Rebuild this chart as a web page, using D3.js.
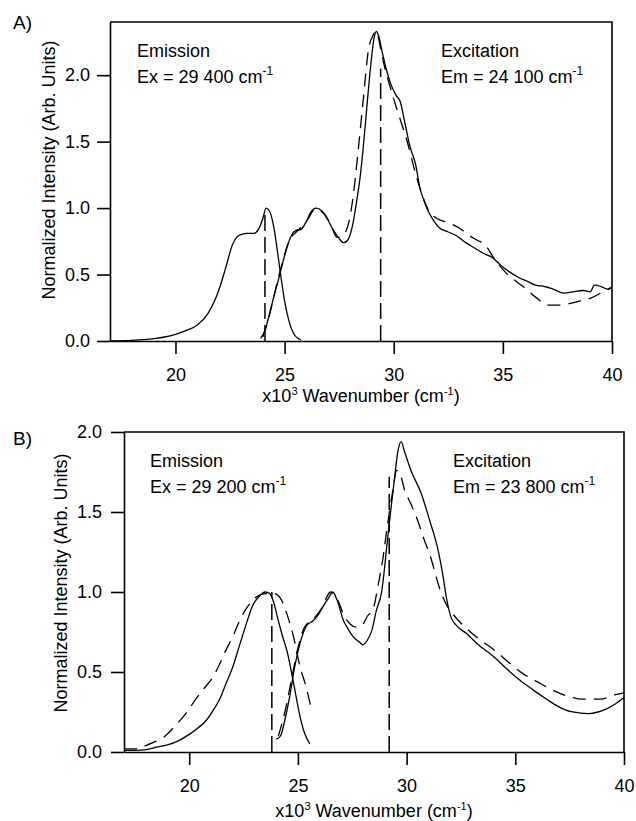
<!DOCTYPE html>
<html>
<head>
<meta charset="utf-8">
<script src="https://cdn.jsdelivr.net/npm/d3@7"></script>
<style>
  body { margin: 0; background: #fff; }
  svg { font-family: "Liberation Sans", Arial, sans-serif; }
  .axis path, .axis line { stroke: #000; stroke-width: 1.6; }
  .axis text { font-size: 18px; fill: #000; font-family: "Liberation Sans", Arial, sans-serif; }
</style>
</head>
<body>
<div id="chart"></div>
<script>
// wavenumber (x10^3 cm-1), normalized intensity

// panel A
const aEmission = [[17,0.0],[18,0.005],[19,0.018],[19.5,0.03],[20,0.05],[20.5,0.08],[21,0.12],[21.5,0.21],
  [22,0.39],[22.3,0.55],[22.6,0.72],[22.8,0.78],[23,0.8],[23.3,0.81],[23.6,0.81],[23.8,0.84],[24.0,0.92],
  [24.15,1.0],[24.3,0.98],[24.5,0.86],[24.65,0.7],[24.8,0.52],[25.0,0.3],[25.2,0.15],[25.4,0.06],[25.6,0.02],[25.75,0.01]];
const aExcitation = [[23.9,0.02],[24.1,0.08],[24.3,0.2],[24.5,0.33],[24.7,0.45],[24.9,0.58],[25.1,0.7],[25.3,0.79],
  [25.5,0.83],[25.75,0.84],[26.0,0.9],[26.2,0.97],[26.45,1.0],[26.7,0.98],[26.95,0.92],[27.25,0.83],[27.5,0.77],
  [27.7,0.74],[27.9,0.76],[28.1,0.86],[28.3,1.05],[28.45,1.22],[28.6,1.45],[28.8,1.82],[28.95,2.08],[29.1,2.28],
  [29.2,2.33],[29.3,2.3],[29.45,2.19],[29.65,2.05],[29.85,1.94],[30.1,1.85],[30.3,1.8],[30.5,1.65],[30.75,1.46],
  [31.0,1.33],[31.2,1.15],[31.4,1.05],[31.6,0.97],[31.85,0.9],[32.1,0.85],[32.5,0.82],[32.9,0.79],[33.3,0.74],
  [33.7,0.7],[34.1,0.66],[34.5,0.63],[34.9,0.57],[35.3,0.52],[35.7,0.48],[36.1,0.45],[36.5,0.42],[36.9,0.41],
  [37.3,0.39],[37.8,0.36],[38.2,0.37],[38.7,0.38],[39.0,0.37],[39.2,0.42],[39.5,0.41],[39.8,0.39],[40,0.41]];
const aExcitationDash = [[24.0,0.03],[24.3,0.19],[24.6,0.4],[24.9,0.59],[25.2,0.75],[25.6,0.83],[26.0,0.9],
  [26.4,0.99],[26.8,0.96],[27.1,0.88],[27.4,0.78],[27.7,0.8],[27.95,0.9],[28.15,1.1],[28.35,1.4],[28.6,1.81],
  [28.84,2.19],[29.05,2.3],[29.2,2.33],[29.4,2.2],[29.6,2.05],[29.75,1.96],[30.15,1.74],[30.6,1.51],[31.0,1.26],
  [31.3,1.1],[31.6,0.98],[32.0,0.92],[32.5,0.89],[33.0,0.85],[33.4,0.8],[33.8,0.76],[34.2,0.72],[34.6,0.62],
  [35.1,0.52],[35.6,0.45],[36.0,0.4],[36.5,0.33],[37.1,0.27],[37.6,0.27],[38.0,0.28],[38.5,0.3],[39.0,0.32],
  [39.6,0.37],[40,0.4]];
const aMarkers = [[24.1,0.95],[29.4,2.05]];

// panel B
const bEmission = [[17,0.01],[17.5,0.01],[18,0.015],[18.5,0.03],[19,0.045],[19.5,0.07],[20,0.11],[20.4,0.15],
  [20.8,0.2],[21.1,0.26],[21.4,0.33],[21.7,0.43],[22.0,0.53],[22.3,0.66],[22.6,0.79],[22.9,0.91],[23.2,0.97],
  [23.5,1.0],[23.7,0.99],[23.85,0.95],[24.1,0.82],[24.3,0.72],[24.5,0.63],[24.8,0.43],[25.1,0.22],[25.3,0.12],[25.55,0.05]];
const bEmissionDash = [[17,0.02],[17.5,0.02],[18,0.04],[18.35,0.06],[18.8,0.09],[19.4,0.17],[19.9,0.25],[20.3,0.33],
  [20.7,0.4],[21.1,0.47],[21.4,0.55],[21.7,0.64],[22.0,0.72],[22.25,0.8],[22.55,0.88],[22.8,0.93],[23.1,0.97],
  [23.5,0.99],[23.9,0.99],[24.2,0.96],[24.5,0.86],[24.8,0.72],[25.1,0.53],[25.35,0.42],[25.65,0.25]];
const bExcitation = [[24.0,0.08],[24.2,0.1],[24.4,0.2],[24.6,0.33],[24.85,0.53],[25.1,0.68],[25.4,0.79],[25.7,0.82],
  [25.95,0.86],[26.2,0.92],[26.4,0.96],[26.6,1.0],[26.8,0.95],[27.1,0.82],[27.3,0.77],[27.55,0.72],[27.8,0.69],
  [28.0,0.67],[28.2,0.7],[28.4,0.76],[28.6,0.88],[28.85,1.0],[29.14,1.35],[29.45,1.72],[29.6,1.88],[29.75,1.94],
  [29.9,1.88],[30.2,1.76],[30.66,1.62],[31.1,1.43],[31.4,1.29],[31.65,1.12],[31.85,0.95],[32.05,0.84],[32.3,0.79],
  [32.76,0.74],[33.3,0.67],[33.97,0.6],[34.6,0.52],[35.2,0.45],[35.8,0.39],[36.44,0.33],[36.9,0.29],[37.36,0.26],
  [37.9,0.245],[38.4,0.24],[38.8,0.25],[39.2,0.27],[39.6,0.3],[40,0.34]];
const bExcitationDash = [[24.1,0.1],[24.4,0.25],[24.7,0.45],[25.0,0.65],[25.3,0.78],[25.7,0.83],[26.1,0.9],[26.5,1.0],
  [26.8,0.96],[27.1,0.86],[27.4,0.8],[27.7,0.78],[28.0,0.8],[28.2,0.85],[28.45,0.89],[28.7,1.05],[28.9,1.2],
  [29.1,1.4],[29.35,1.62],[29.55,1.76],[29.7,1.74],[29.9,1.64],[30.2,1.55],[30.5,1.45],[30.8,1.33],[31.1,1.22],
  [31.35,1.1],[31.55,1.01],[31.8,0.93],[32.2,0.85],[32.7,0.78],[33.2,0.72],[33.6,0.68],[34.1,0.63],[34.7,0.56],
  [35.35,0.49],[36.0,0.44],[36.67,0.39],[37.4,0.35],[38.1,0.33],[38.9,0.33],[39.66,0.36],[40,0.37]];
const bMarkers = [[23.8,1.0],[29.2,1.72]];

const xTicks = [20, 25, 30, 35, 40];
const yTicks = [0, 0.5, 1.0, 1.5, 2.0];

const svg = d3.select("#chart")
  .append("svg")
  .attr("width", 636)
  .attr("height", 821);

function drawPanel(p) {
  const x = d3.scaleLinear().domain([17, 40]).range([p.left, p.right]);
  const y = d3.scaleLinear().domain([0, p.yMax]).range([p.bottom, p.top]);
  const g = svg.append("g");

  // frame (top + right)
  g.append("path")
    .attr("d", `M${p.left},${p.top}H${p.right}V${p.bottom}`)
    .attr("fill", "none").attr("stroke", "#000").attr("stroke-width", 1.6);

  g.append("g").attr("class", "axis")
    .attr("transform", `translate(0,${p.bottom})`)
    .call(d3.axisBottom(x).tickValues(xTicks).tickFormat(d3.format("d"))
      .tickSizeInner(13).tickSizeOuter(0).tickPadding(14));

  g.append("g").attr("class", "axis")
    .attr("transform", `translate(${p.left},0)`)
    .call(d3.axisLeft(y).tickValues(yTicks).tickFormat(d3.format(".1f"))
      .tickSizeInner(13).tickSizeOuter(0).tickPadding(p.yPad));

  const line = d3.line().x(d => x(d[0])).y(d => y(d[1])).curve(d3.curveMonotoneX);

  p.solid.forEach(s => g.append("path").datum(s).attr("d", line)
    .attr("fill", "none").attr("stroke", "#000").attr("stroke-width", 1.3));
  p.dashed.forEach(s => g.append("path").datum(s).attr("d", line)
    .attr("fill", "none").attr("stroke", "#000").attr("stroke-width", 1.3)
    .attr("stroke-dasharray", "13,8"));

  g.selectAll(null).data(p.markers).enter().append("line")
    .attr("x1", d => x(d[0])).attr("x2", d => x(d[0]))
    .attr("y1", y(0)).attr("y2", d => y(d[1]))
    .attr("stroke", "#000").attr("stroke-width", 1.5)
    .attr("stroke-dasharray", "16,6");

  // panel letter
  g.append("text").attr("x", 13).attr("y", p.letterY)
    .attr("font-size", 19).text(p.letter);

  // y label
  g.append("text")
    .attr("transform", `translate(${p.yLabelX},${p.yLabelY}) rotate(-90)`)
    .attr("text-anchor", "middle").attr("font-size", 18)
    .text("Normalized Intensity (Arb. Units)");

  // x label
  const xl = g.append("text")
    .attr("x", (p.left + p.right) / 2).attr("y", p.xLabelY)
    .attr("text-anchor", "middle").attr("font-size", 18);
  xl.append("tspan").text("x10");
  xl.append("tspan").attr("font-size", 11).attr("dy", -7).text("3");
  xl.append("tspan").attr("dy", 7).text(" Wavenumber (cm");
  xl.append("tspan").attr("font-size", 11).attr("dy", -7).text("-1");
  xl.append("tspan").attr("dy", 7).text(")");

  // annotations
  p.notes.forEach(n => {
    g.append("text").attr("x", n.x).attr("y", p.noteY)
      .attr("font-size", 18).text(n.title);
    const t = g.append("text").attr("x", n.x).attr("y", p.noteY + 26)
      .attr("font-size", 18);
    t.append("tspan").text(n.value + " cm");
    t.append("tspan").attr("font-size", 12).attr("dy", -8).text("-1");
  });
}

drawPanel({
  left: 110, right: 612, top: 22, bottom: 341, yMax: 2.4, yPad: 7,
  solid: [aEmission, aExcitation], dashed: [aExcitationDash], markers: aMarkers,
  letter: "A)", letterY: 29, yLabelX: 55, yLabelY: 170, xLabelY: 402, noteY: 57,
  notes: [{x: 137, title: "Emission", value: "Ex = 29 400"},
          {x: 441, title: "Excitation", value: "Em = 24 100"}]
});

drawPanel({
  left: 124, right: 624, top: 432, bottom: 752, yMax: 2.0, yPad: 9,
  solid: [bEmission, bExcitation], dashed: [bEmissionDash, bExcitationDash], markers: bMarkers,
  letter: "B)", letterY: 445, yLabelX: 67, yLabelY: 583, xLabelY: 817, noteY: 467,
  notes: [{x: 150, title: "Emission", value: "Ex = 29 200"},
          {x: 453, title: "Excitation", value: "Em = 23 800"}]
});
</script>
</body>
</html>
